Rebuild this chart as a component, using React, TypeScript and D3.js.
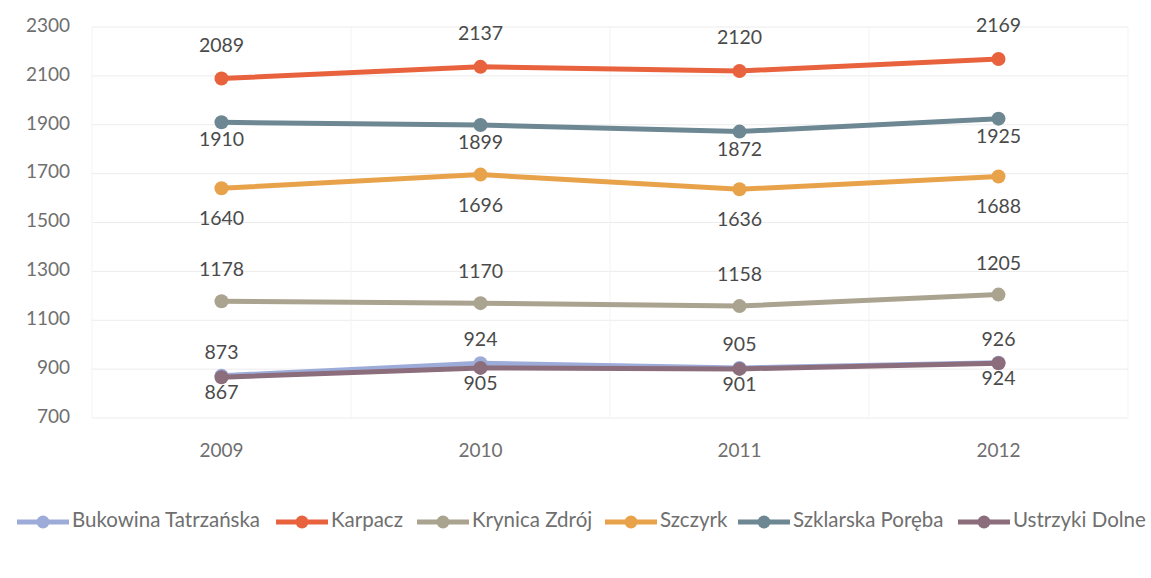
import React from "react";
import * as d3 from "d3";

const years = ["2009", "2010", "2011", "2012"];
const yTicks = [700, 900, 1100, 1300, 1500, 1700, 1900, 2100, 2300];

const bukowina = [873, 924, 905, 926];
const karpacz = [2089, 2137, 2120, 2169];
const krynica = [1178, 1170, 1158, 1205];
const szczyrk = [1640, 1696, 1636, 1688];
const szklarska = [1910, 1899, 1872, 1925];
const ustrzyki = [867, 905, 901, 924];

const series = [
  { name: "Bukowina Tatrzańska", values: bukowina, color: "#9dabd9", dy: -22 },
  { name: "Karpacz", values: karpacz, color: "#e8623e", dy: -32 },
  { name: "Krynica Zdrój", values: krynica, color: "#aaa38f", dy: -30 },
  { name: "Szczyrk", values: szczyrk, color: "#e8a24a", dy: 32 },
  { name: "Szklarska Poręba", values: szklarska, color: "#6d8893", dy: 19 },
  { name: "Ustrzyki Dolne", values: ustrzyki, color: "#8b6d7c", dy: 17 },
];

const legendX = [17, 276, 417, 605, 738, 958];

export default function App() {
  const W = 1151, H = 578;
  const left = 92, right = 1128, top = 27, bottom = 418;
  const x = d3.scaleBand().domain(years).range([left, right]);
  const y = d3.scaleLinear().domain([700, 2300]).range([bottom, top]);
  const cx = (yr: string) => (x(yr) as number) + x.bandwidth() / 2;
  const line = d3
    .line<number>()
    .x((_, i) => cx(years[i]))
    .y((v) => y(v));
  const font = "Lato, 'Open Sans', sans-serif";
  const axisColor = "#6f6f6f";
  const labelColor = "#4a4a4a";
  return (
    <svg
      width={W}
      height={H}
      style={{ position: "absolute", left: 0, top: 0, background: "#fff" }}
      fontFamily={font}
    >
      {yTicks.map((t) => (
        <g key={t}>
          <line x1={left} x2={right} y1={y(t)} y2={y(t)} stroke="#ececec" strokeWidth={1} />
          <text x={70} y={y(t)} textAnchor="end" dominantBaseline="middle" fontSize={19} fill={axisColor}>
            {t}
          </text>
        </g>
      ))}
      {years.map((yr) => (
        <line
          key={"v" + yr}
          x1={x(yr) as number}
          x2={x(yr) as number}
          y1={top}
          y2={bottom}
          stroke="#f3f3f3"
          strokeWidth={1}
        />
      ))}
      <line x1={right} x2={right} y1={top} y2={bottom} stroke="#f3f3f3" />
      {years.map((yr) => (
        <text key={yr} x={cx(yr)} y={452} textAnchor="middle" dominantBaseline="middle" fontSize={19} fill={axisColor}>
          {yr}
        </text>
      ))}
      {series.map((s) => (
        <g key={s.name}>
          <path d={line(s.values) || ""} fill="none" stroke={s.color} strokeWidth={5} strokeLinecap="round" />
          {s.values.map((v, i) => (
            <circle key={i} cx={cx(years[i])} cy={y(v)} r={7} fill={s.color} />
          ))}
        </g>
      ))}
      {series.map((s) =>
        s.values.map((v, i) => (
          <text
            key={s.name + i}
            x={cx(years[i])}
            y={y(v) + s.dy}
            textAnchor="middle"
            dominantBaseline="middle"
            fontSize={19.5}
            fill={labelColor}
          >
            {v}
          </text>
        ))
      )}
      {series.map((s, i) => (
        <g key={"lg" + s.name} transform={`translate(${legendX[i]},522)`}>
          <line x1={0} x2={52} y1={0} y2={0} stroke={s.color} strokeWidth={5} />
          <circle cx={26} cy={0} r={6.5} fill={s.color} />
          <text x={55} y={0} dominantBaseline="middle" fontSize={20.5} fill={axisColor}>
            {s.name}
          </text>
        </g>
      ))}
    </svg>
  );
}
